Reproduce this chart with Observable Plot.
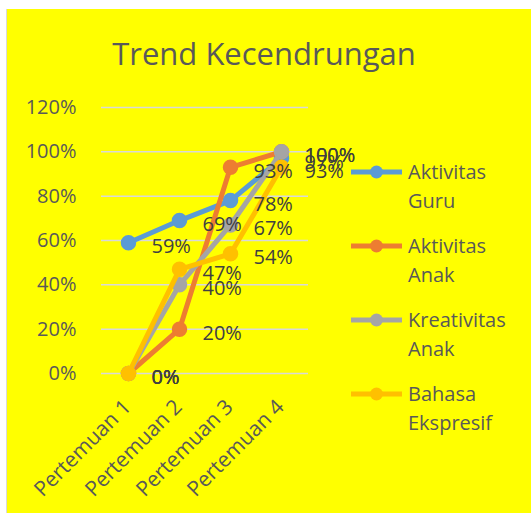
<!DOCTYPE html>
<html>
<head>
<meta charset="utf-8">
<script src="https://cdn.jsdelivr.net/npm/d3@7"></script>
<script src="https://cdn.jsdelivr.net/npm/@observablehq/plot@0.6"></script>
<style>
  html, body { margin: 0; padding: 0; background: #ffffff; }
  body { width: 531px; height: 513px; position: relative; overflow: hidden; font-family: "Open Sans", sans-serif; }
  #chart { position: absolute; left: 6px; top: 9px; width: 525px; height: 504px; background: #ffff00; border-left: 1px solid #d9d9d9; box-sizing: border-box; }
  #title { position: absolute; left: 0; top: 23px; width: 514px; text-align: center; font-size: 31px; line-height: 42px; color: #595959; white-space: nowrap; }
  #plot { position: absolute; left: 0; top: 80px; }
  #legend { position: absolute; left: 344px; top: 148px; }
  .entry { display: flex; align-items: flex-start; height: 74px; }
  .entry svg { flex: none; margin-top: 8px; margin-right: 6px; }
  .entry .lbl { font-size: 20px; line-height: 29px; color: #595959; }
</style>
</head>
<body>
<div id="chart">
  <div id="title"></div>
  <div id="plot"></div>
  <div id="legend"></div>
</div>
<script>
const titleText = "Trend Kecendrungan";
const categories = ["Pertemuan 1", "Pertemuan 2", "Pertemuan 3", "Pertemuan 4"];
const seriesNames = ["Aktivitas Guru", "Aktivitas Anak", "Kreativitas Anak", "Bahasa Ekspresif"];
const seriesLegendLines = [["Aktivitas", "Guru"], ["Aktivitas", "Anak"], ["Kreativitas", "Anak"], ["Bahasa", "Ekspresif"]];
const seriesColors = ["#5B9BD5", "#ED7D31", "#A5A5A5", "#FFC000"];
const aktivitasGuru = [0.59, 0.69, 0.78, 0.97];
const aktivitasAnak = [0.00, 0.20, 0.93, 1.00];
const kreativitasAnak = [0.00, 0.40, 0.67, 1.00];
const bahasaEkspresif = [0.00, 0.47, 0.54, 0.93];
const yTicks = [0, 0.2, 0.4, 0.6, 0.8, 1.0, 1.2];

const seriesValues = [aktivitasGuru, aktivitasAnak, kreativitasAnak, bahasaEkspresif];
const rows = [];
seriesNames.forEach((s, i) => {
  categories.forEach((c, j) => rows.push({series: s, cat: c, value: seriesValues[i][j], color: seriesColors[i]}));
});
const pct = d3.format(".0%");

document.getElementById("title").textContent = titleText;

const seriesMarks = [];
seriesNames.forEach((s, i) => {
  const d = rows.filter(r => r.series === s);
  seriesMarks.push(Plot.line(d, {x: "cat", y: "value", stroke: seriesColors[i], strokeWidth: 5, strokeLinejoin: "round", strokeLinecap: "round"}));
  seriesMarks.push(Plot.dot(d, {x: "cat", y: "value", r: 7, fill: seriesColors[i], stroke: seriesColors[i]}));
});

const chart = Plot.plot({
  width: 524,
  height: 424,
  marginLeft: 94,
  marginRight: 223,
  marginTop: 18,
  marginBottom: 140,
  style: {background: "transparent", fontFamily: "Open Sans, sans-serif", fontSize: "20px", color: "#595959", overflow: "visible"},
  x: {type: "point", domain: categories, padding: 0.5, axis: null},
  y: {domain: [0, 1.2], axis: null},
  marks: [
    Plot.ruleY(yTicks, {stroke: "#d9d9d9", strokeWidth: 1.5}),
    Plot.axisY(yTicks, {tickSize: 0, tickPadding: 25, tickFormat: pct, fill: "#595959", label: null}),
    Plot.text(categories, {x: d => d, y: () => 0, text: d => d, rotate: -45, textAnchor: "end", lineAnchor: "middle", dy: 30, dx: -1, fontSize: 21, fill: "#595959"}),
    ...seriesMarks,
    Plot.text(rows, {x: "cat", y: "value", text: d => pct(d.value), textAnchor: "start", dx: 23, dy: 4, fill: "#404040"})
  ]
});
document.getElementById("plot").appendChild(chart);

const legend = document.getElementById("legend");
seriesNames.forEach((s, i) => {
  const e = document.createElement("div");
  e.className = "entry";
  e.innerHTML = `<svg width="51" height="14"><line x1="0" x2="51" y1="7" y2="7" stroke="${seriesColors[i]}" stroke-width="5"/><circle cx="25.5" cy="7" r="6.5" fill="${seriesColors[i]}"/></svg><div class="lbl">${seriesLegendLines[i].join("<br>")}</div>`;
  legend.appendChild(e);
});
</script>
</body>
</html>
